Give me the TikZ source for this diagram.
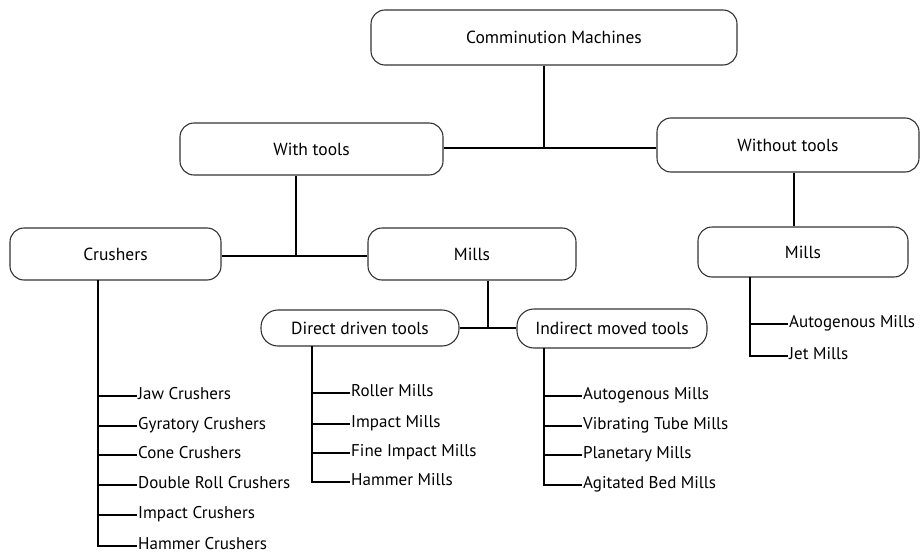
\documentclass[tikz,border=0pt]{standalone}
\usepackage{fontspec}
\setmainfont{PT Sans}
\usetikzlibrary{positioning}

\tikzset{
  box/.style={draw=black!80, line width=1.1pt, rounded corners=14pt, align=center,
    font=\fontsize{17.5}{20}\selectfont, inner sep=0pt},
  pill/.style={box, rounded corners=17pt},
  leaf/.style={anchor=west, inner sep=1pt, font=\fontsize{17}{20}\selectfont,
    text height=1.45ex, text depth=0pt},
  link/.style={line width=1.6pt, black}
}

\begin{document}
\begin{tikzpicture}[x=1pt,y=-1pt]
\useasboundingbox (0,0) rectangle (924,554);

%%%%%
%% boxes
%%%%%
\node[box, minimum width=366pt, minimum height=55pt] (top) at (554,37.5) {Comminution Machines};
\node[box, minimum width=263pt, minimum height=52pt] (withtools) at (311.5,149) {With tools};
\node[box, minimum width=262pt, minimum height=54pt] (without) at (788,145) {Without tools};
\node[box, minimum width=211pt, minimum height=52pt] (crushers) at (115.5,254) {Crushers};
\node[box, minimum width=208pt, minimum height=52pt] (mills) at (472,254) {Mills};
\node[box, minimum width=210pt, minimum height=50pt] (millsr) at (803,252) {Mills};
\node[pill, minimum width=198pt, minimum height=36pt] (direct) at (360,328) {Direct driven tools};
\node[pill, minimum width=190pt, minimum height=39pt] (indirect) at (612,328.5) {Indirect moved tools};

\coordinate (tj) at (544,148);
\coordinate (wj) at (296,256);
\coordinate (mj) at (488,328);
\coordinate (oj) at (794,200);

\draw[link] (top.south -| tj) -- (tj);
\draw[link] (withtools.east |- tj) -- (without.west |- tj);
\draw[link] (withtools.south -| wj) -- (wj);
\draw[link] (crushers.east |- wj) -- (mills.west |- wj);
\draw[link] (mills.south -| mj) -- (mj);
\draw[link] (direct.east |- mj) -- (indirect.west |- mj);
\draw[link] (without.south -| oj) -- (millsr.north -| oj);

%%%%%
%% crushers
%%%%%
\coordinate (ct) at (98,280);
\node[leaf] (jaw) at (137,396) {Jaw Crushers};
\node[leaf] (gyr) at (137,426) {Gyratory Crushers};
\node[leaf] (cone) at (137,455) {Cone Crushers};
\node[leaf] (droll) at (137,485) {Double Roll Crushers};
\node[leaf] (impcr) at (137,515) {Impact Crushers};
\node[leaf] (hamcr) at (137,546) {Hammer Crushers};

\draw[link] (ct) |- (hamcr.west);
\draw[link] (ct |- jaw.west) -- (jaw.west);
\draw[link] (ct |- gyr.west) -- (gyr.west);
\draw[link] (ct |- cone.west) -- (cone.west);
\draw[link] (ct |- droll.west) -- (droll.west);
\draw[link] (ct |- impcr.west) -- (impcr.west);

%%%%%
%% direct driven tools
%%%%%
\coordinate (dt) at (312,346);
\node[leaf] (roller) at (350,393) {Roller Mills};
\node[leaf] (impm) at (350,424) {Impact Mills};
\node[leaf] (fine) at (350,453) {Fine Impact Mills};
\node[leaf] (hamm) at (350,482) {Hammer Mills};

\draw[link] (dt) |- (hamm.west);
\draw[link] (dt |- roller.west) -- (roller.west);
\draw[link] (dt |- impm.west) -- (impm.west);
\draw[link] (dt |- fine.west) -- (fine.west);

%%%%%
%% indirect moved tools
%%%%%
\coordinate (it) at (544,348);
\node[leaf] (auto) at (582,396) {Autogenous Mills};
\node[leaf] (vib) at (582,426) {Vibrating Tube Mills};
\node[leaf] (plan) at (582,455) {Planetary Mills};
\node[leaf] (agit) at (582,485) {Agitated Bed Mills};

\draw[link] (it) |- (agit.west);
\draw[link] (it |- auto.west) -- (auto.west);
\draw[link] (it |- vib.west) -- (vib.west);
\draw[link] (it |- plan.west) -- (plan.west);

%%%%%
%% without tools
%%%%%
\coordinate (rt) at (750,277);
\node[leaf] (autor) at (788,324) {Autogenous Mills};
\node[leaf] (jet) at (788,356) {Jet Mills};

\draw[link] (rt) |- (jet.west);
\draw[link] (rt |- autor.west) -- (autor.west);

\end{tikzpicture}
\end{document}
